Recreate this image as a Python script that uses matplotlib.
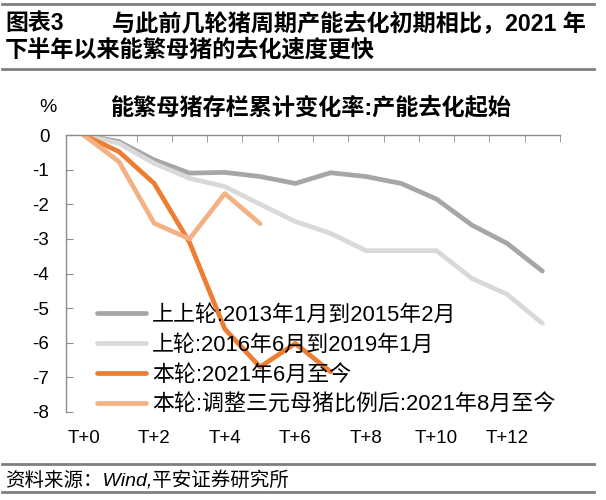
import matplotlib
matplotlib.use("Agg")
import matplotlib.pyplot as plt
from matplotlib.lines import Line2D

plt.rcParams['font.family'] = ['Liberation Sans', 'Noto Sans CJK SC', 'DejaVu Sans']
plt.rcParams['axes.unicode_minus'] = False

# 数据：能繁母猪存栏累计变化率 (%)
periods = ['T+%d' % i for i in range(14)]
round_2013 = [0, -0.19, -0.72, -1.1, -1.08, -1.2, -1.4, -1.09, -1.2, -1.4, -1.85, -2.6, -3.13, -3.93]
round_2016 = [0, -0.24, -0.82, -1.25, -1.49, -2.0, -2.5, -2.84, -3.34, -3.34, -3.34, -4.14, -4.6, -5.44]
round_2021 = [0, -0.48, -1.4, -3.1, -5.6, -6.7, -6.02, -6.84]
round_2021_adj = [0, -0.77, -2.55, -3.0, -1.69, -2.56]

labels = ['上上轮:2013年1月到2015年2月',
          '上轮:2016年6月到2019年1月',
          '本轮:2021年6月至今',
          '本轮:调整三元母猪比例后:2021年8月至今']
colors = ['#A6A6A6', '#D9D9D9', '#ED7D31', '#F4B183']
series = [round_2013, round_2016, round_2021, round_2021_adj]

fig = plt.figure(figsize=(6.06, 5.0), dpi=100)
ax = fig.add_axes([66 / 606, 1 - 412 / 500, (560 - 66) / 606, (412 - 135) / 500])

for vals, lab, col in zip(series, labels, colors):
    ax.plot(range(len(vals)), vals, color=col, lw=3.4, label=lab,
            solid_capstyle='round', solid_joinstyle='round')

ax.set_xlim(-0.5, len(periods) - 0.5)
ax.set_ylim(-8, 0)
ax.set_yticks(range(-8, 1))
ax.set_xticks(range(0, len(periods), 2))
ax.set_xticklabels(periods[::2])
ax.set_xticks([i - 0.5 for i in range(len(periods) + 1)], minor=True)

for s in ['right', 'bottom']:
    ax.spines[s].set_visible(False)
for s in ['left', 'top']:
    ax.spines[s].set_color('#8C8C8C')
    ax.spines[s].set_linewidth(1.0)

ax.tick_params(axis='x', which='major', length=0, pad=13, labelsize=13.5, colors='#000000')
ax.tick_params(axis='x', which='minor', bottom=False, top=True, direction='in',
               length=5, color='#8C8C8C')
ax.tick_params(axis='y', direction='in', length=5, color='#8C8C8C', pad=12, labelsize=13.5)

leg = ax.legend(loc='upper left', bbox_to_anchor=(97 / 606, 1 - 305 / 500),
                bbox_transform=fig.transFigure, frameon=False, fontsize=15.8,
                handlelength=2.25, handletextpad=0.25, labelspacing=0.4,
                borderpad=0, borderaxespad=0)

# 标题与单位
fig.text(311 / 606, 1 - 108 / 500, '能繁母猪存栏累计变化率:产能去化起始',
         ha='center', va='center', fontsize=16.7, fontweight='bold')
fig.text(48 / 606, 1 - 108 / 500, '%', ha='center', va='center', fontsize=14)

# 表头
fig.text(5 / 606, 1 - 24 / 500, '图表3', ha='left', va='center', fontsize=16.5, fontweight='bold')
fig.text(112 / 606, 1 - 24 / 500, '与此前几轮猪周期产能去化初期相比，2021 年',
         ha='left', va='center', fontsize=16.7, fontweight='bold')
fig.text(5 / 606, 1 - 50 / 500, '下半年以来能繁母猪的去化速度更快',
         ha='left', va='center', fontsize=16.7, fontweight='bold')

fig.text(5 / 606, 1 - 480 / 500, '资料来源：Wind,平安证券研究所',
         ha='left', va='center', fontsize=14, style='italic')

for y in [4, 69, 464, 492]:
    fig.add_artist(Line2D([2 / 606, 594 / 606], [1 - y / 500, 1 - y / 500],
                          color='#7F7F7F', lw=2.0, transform=fig.transFigure))

fig.savefig('out.png', dpi=100)
